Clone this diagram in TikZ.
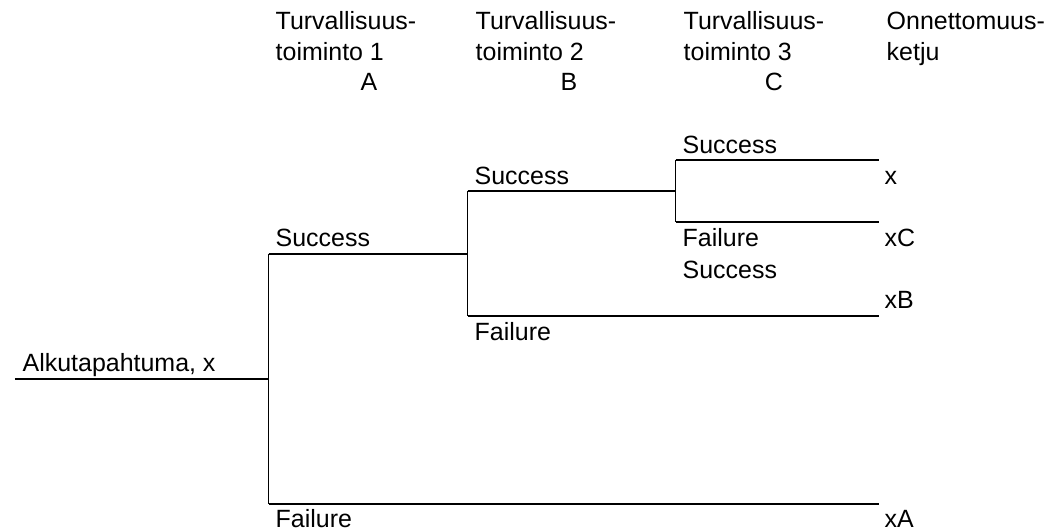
\documentclass[tikz,border=0pt]{standalone}
\usepackage{fontspec}
\setmainfont{Liberation Sans}
\usetikzlibrary{positioning}

\tikzset{
    lbl/.style={anchor=base west, inner sep=0pt, font=\fontsize{7.1}{8.5}\selectfont},
    mid/.style={lbl, anchor=base},
    branch/.style={line width=0.5pt}
}

\begin{document}
\begin{tikzpicture}
                \useasboundingbox (0,0) rectangle (10.45,-5.29);

                % Otsikot
                \node[lbl] (h1a) at (2.75,-0.30) {Turvallisuus-};
                \node[lbl] (h1b) at (2.75,-0.607) {toiminto 1};
                \node[mid] (hA) at (3.69,-0.907) {A};
                \node[lbl] (h2a) at (4.75,-0.30) {Turvallisuus-};
                \node[lbl] (h2b) at (4.75,-0.607) {toiminto 2};
                \node[mid] (hB) at (5.69,-0.907) {B};
                \node[lbl] (h3a) at (6.83,-0.30) {Turvallisuus-};
                \node[lbl] (h3b) at (6.83,-0.607) {toiminto 3};
                \node[mid] (hC) at (7.74,-0.907) {C};
                \node[lbl] (h4a) at (8.86,-0.30) {Onnettomuus-};
                \node[lbl] (h4b) at (8.86,-0.607) {ketju};

                % Haarautumispisteet
                \coordinate (s0) at (0.15,-3.79);
                \coordinate (a0) at (2.685,-3.79);
                \coordinate (a1) at (2.685,-2.54);
                \coordinate (a2) at (2.685,-5.04);
                \coordinate (b0) at (4.675,-2.54);
                \coordinate (b1) at (4.675,-1.91);
                \coordinate (b2) at (4.675,-3.16);
                \coordinate (c0) at (6.755,-1.91);
                \coordinate (c1) at (6.755,-1.60);
                \coordinate (c2) at (6.755,-2.22);
                \coordinate (e1) at (8.79,-1.60);
                \coordinate (e2) at (8.79,-2.22);
                \coordinate (e3) at (8.79,-3.16);
                \coordinate (e4) at (8.79,-5.04);

                % Puu
                \draw[branch] (s0) -- (a0);
                \draw[branch] (a1) -- (a2);
                \draw[branch] (a1) -- (b0);
                \draw[branch] (a2) -- (e4);
                \draw[branch] (b1) -- (b2);
                \draw[branch] (b1) -- (c0);
                \draw[branch] (b2) -- (e3);
                \draw[branch] (c1) -- (c2);
                \draw[branch] (c1) -- (e1);
                \draw[branch] (c2) -- (e2);

                % Tekstit
                \node[lbl] (init) at (0.22,-3.72) {Alkutapahtuma, x};
                \node[lbl] (aS) at (2.75,-2.47) {Success};
                \node[lbl] (aF) at (2.75,-5.27) {Failure};
                \node[lbl] (bS) at (4.74,-1.85) {Success};
                \node[lbl] (bF) at (4.74,-3.41) {Failure};
                \node[lbl] (cS) at (6.82,-1.54) {Success};
                \node[lbl] (cF) at (6.82,-2.47) {Failure};
                \node[lbl] (cS2) at (6.82,-2.79) {Success};

                % Lopputulokset
                \node[lbl] (o1) at (8.84,-1.85) {x};
                \node[lbl] (o2) at (8.84,-2.47) {xC};
                \node[lbl] (o3) at (8.84,-3.09) {xB};
                \node[lbl] (o4) at (8.84,-5.27) {xA};
            \end{tikzpicture}
\end{document}
